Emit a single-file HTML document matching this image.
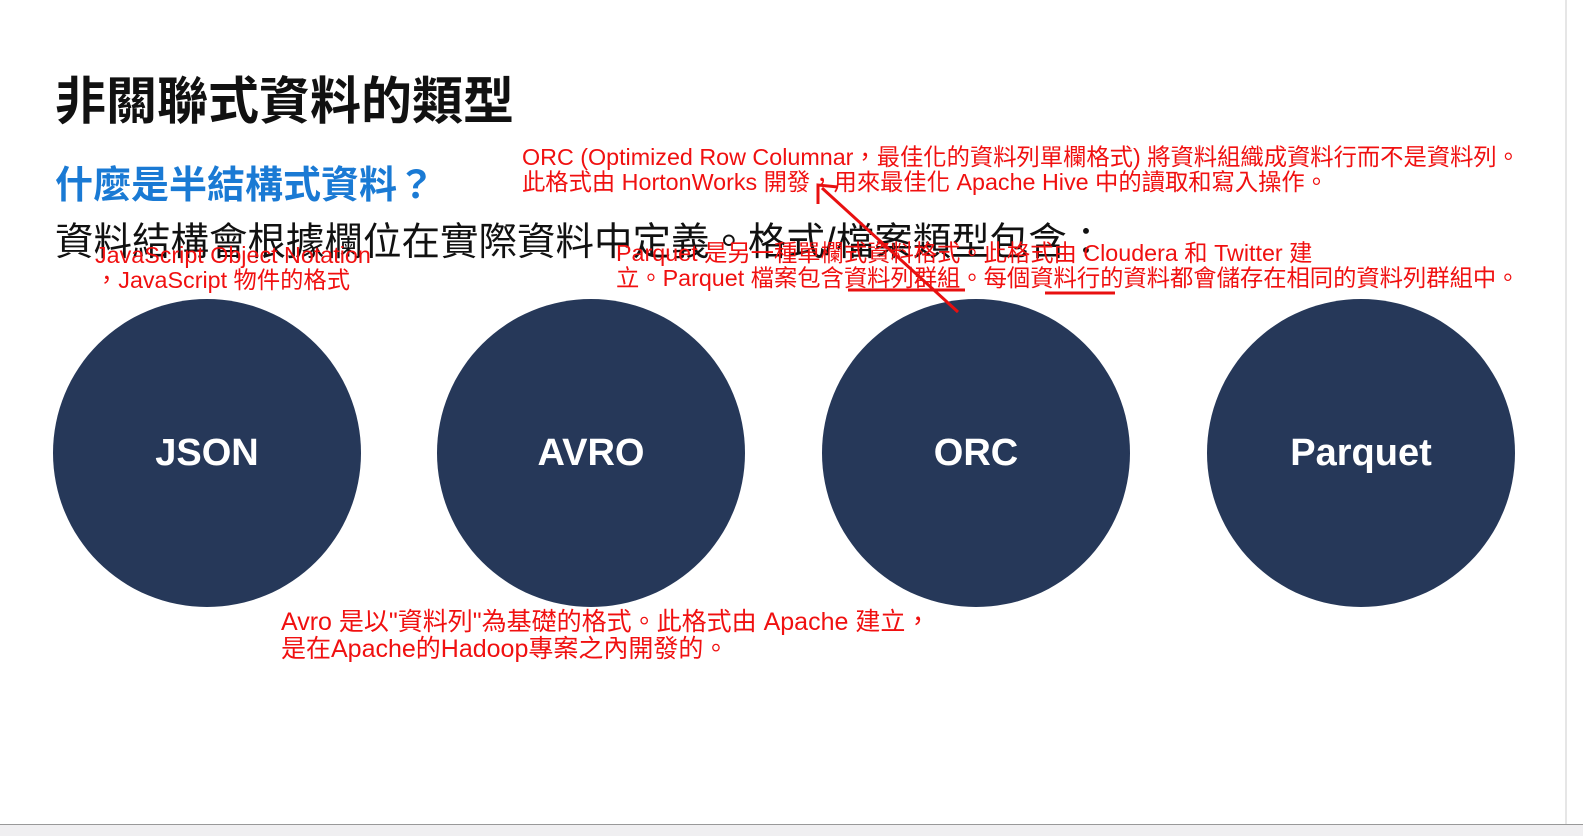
<!DOCTYPE html>
<html><head><meta charset="utf-8"><style>
body{margin:0;width:1583px;height:835px;background:#fff;position:relative;overflow:hidden;font-family:"Liberation Sans","Noto Sans CJK TC",sans-serif}
.a{position:absolute;white-space:nowrap}
.r{color:#f01010;font-size:23.3px;line-height:25px}
.c{position:absolute;width:308px;height:308px;border-radius:50%;background:#263859;color:#fff;font-size:38px;font-weight:bold;display:flex;align-items:center;justify-content:center}
</style></head><body>
<div class="a" style="left:55px;top:60px;font-size:51px;font-weight:bold;color:#111">非關聯式資料的類型</div>
<div class="a" style="left:55px;top:154px;font-size:38px;font-weight:bold;color:#1a7ad4">什麼是半結構式資料？</div>
<div class="a" style="left:55px;top:211px;font-size:38.5px;color:#111">資料結構會根據欄位在實際資料中定義。格式/檔案類型包含：</div>
<div class="c" style="left:53px;top:299px">JSON</div>
<div class="c" style="left:437px;top:299px">AVRO</div>
<div class="c" style="left:822px;top:299px">ORC</div>
<div class="c" style="left:1207px;top:299px">Parquet</div>
<div class="a r" style="left:522px;top:145px">ORC (Optimized Row Columnar，最佳化的資料列單欄格式) 將資料組織成資料行而不是資料列。<br>此格式由 HortonWorks 開發，用來最佳化 Apache Hive 中的讀取和寫入操作。</div>
<div class="a r" style="left:95px;top:243px">JavaScript Object Notation<br>，JavaScript 物件的格式</div>
<div class="a r" style="left:616px;top:241px">Parquet 是另一種單欄式資料格式。此格式由 Cloudera 和 Twitter 建<br>立。Parquet 檔案包含資料列群組。每個資料行的資料都會儲存在相同的資料列群組中。</div>
<div class="a r" style="left:281px;top:609px;font-size:25px;line-height:27px">Avro 是以"資料列"為基礎的格式。此格式由 Apache 建立，<br>是在Apache的Hadoop專案之內開發的。</div>
<svg class="a" style="left:0;top:0" width="1583" height="835">
<line x1="958" y1="312" x2="822" y2="188" stroke="#e81010" stroke-width="3"/>
<polyline points="818,204 818,185 838,187" fill="none" stroke="#e81010" stroke-width="3"/>
<line x1="848" y1="290" x2="965" y2="290" stroke="#e81010" stroke-width="3"/>
<line x1="1045" y1="293" x2="1115" y2="293" stroke="#e81010" stroke-width="3"/>
<line x1="1566" y1="0" x2="1566" y2="824" stroke="#ccc" stroke-width="1"/>
</svg>
<div class="a" style="left:0;top:824px;width:1583px;height:11px;background:#f0eff1;border-top:1px solid #999"></div>
</body></html>
